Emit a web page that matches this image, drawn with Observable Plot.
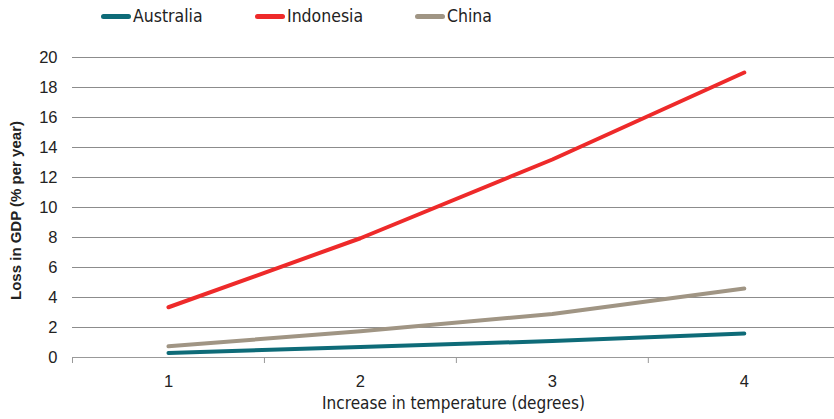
<!DOCTYPE html>
<html><head><meta charset="utf-8">
<script src="https://cdn.jsdelivr.net/npm/d3@7"></script>
<script src="https://cdn.jsdelivr.net/npm/@observablehq/plot@0.6"></script>
<style>
body{margin:0;background:#fff;}
#wrap{position:relative;width:834px;height:419px;overflow:hidden;}
#legend{position:absolute;left:0;top:0;width:834px;height:30px;font-family:"Liberation Sans Narrow","DejaVu Sans Condensed",sans-serif;font-size:17.5px;color:#222;}
.item{position:absolute;top:6px;display:flex;align-items:center;height:20px;}
.sw{width:30px;height:5px;border-radius:3px;margin-right:2px;}
#chart{position:absolute;left:0;top:30px;}
</style></head><body>
<div id="wrap"><div id="legend"></div><div id="chart"></div></div>
<script>
const temps = [1, 2, 3, 4];
const seriesNames = ["Australia", "Indonesia", "China"];
const australia = [0.3, 0.7, 1.1, 1.6];
const indonesia = [3.35, 7.95, 13.2, 19.0];
const china = [0.75, 1.75, 2.9, 4.6];
const colors = ["#0e6b78", "#ee2a2a", "#a09584"];
const yTicks = [0, 2, 4, 6, 8, 10, 12, 14, 16, 18, 20];
const bandEdges = [0.5, 1.5, 2.5, 3.5, 4.5];
const legendLeft = [101, 255, 415];

const values = [australia, indonesia, china];
const data = [];
seriesNames.forEach((s, i) => temps.forEach((t, j) => data.push({series: s, temp: t, value: values[i][j]})));

const legend = document.getElementById("legend");
seriesNames.forEach((s, i) => {
  const d = document.createElement("div");
  d.className = "item";
  d.style.left = legendLeft[i] + "px";
  d.innerHTML = `<span class="sw" style="background:${colors[i]}"></span><span>${s}</span>`;
  legend.appendChild(d);
});

const chart = Plot.plot({
  width: 834,
  height: 389,
  marginLeft: 72,
  marginRight: 0,
  marginTop: 27,
  marginBottom: 62,
  style: {fontFamily: "Liberation Sans, Arial, sans-serif", fontSize: "16px", color: "#222", background: "#fff"},
  x: {domain: [0.5, 4.47]},
  y: {domain: [0, 20]},
  color: {domain: seriesNames, range: colors},
  marks: [
    Plot.ruleY(yTicks.filter(d => d > 0), {stroke: "#8c8c8c", strokeWidth: 1.2}),
    Plot.ruleY([0], {stroke: "#999", strokeWidth: 1.2}),
    Plot.axisY({ticks: yTicks, tickSize: 0, tickPadding: 15, fontSize: 16.5, label: null}),
    Plot.axisX({ticks: temps, tickSize: 0, tickPadding: 18, fontSize: 16.5, tickFormat: d => String(d), label: null}),
    Plot.axisX({ticks: bandEdges, tickSize: 6, tickFormat: () => "", label: null, stroke: "#999"}),
    Plot.text(["Loss in GDP (% per year)"], {frameAnchor: "left", dx: -56, dy: 3, rotate: -90, textAnchor: "middle", fontWeight: "bold", fontSize: 15, fill: "#222"}),
    Plot.text(["Increase in temperature (degrees)"], {frameAnchor: "bottom", dy: 51, fontSize: 17, fill: "#222", fontFamily: "Liberation Sans Narrow, DejaVu Sans Condensed, sans-serif"}),
    Plot.line(data, {x: "temp", y: "value", z: "series", stroke: "series", strokeWidth: 4, strokeLinecap: "round", strokeLinejoin: "round"})
  ]
});
document.getElementById("chart").appendChild(chart);
</script>
</body></html>
